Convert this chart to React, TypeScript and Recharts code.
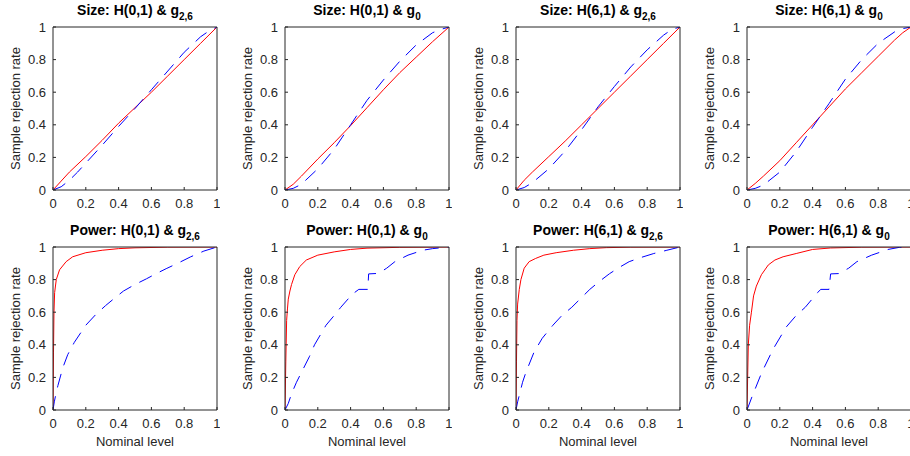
import { Line, LineChart, XAxis, YAxis } from 'recharts'

type Pt = [number, number]

const ticks = [0, 0.2, 0.4, 0.6, 0.8, 1]

// Size panels
const sizeH01g26Red: Pt[] = [[0, 0], [0.05, 0.055], [0.1, 0.11], [0.2, 0.205], [0.3, 0.305], [0.4, 0.41], [0.5, 0.505], [0.6, 0.6], [0.7, 0.7], [0.8, 0.8], [0.9, 0.9], [1, 1]]
const sizeH01g26Blue: Pt[] = [[0, 0], [0.05, 0.02], [0.1, 0.06], [0.15, 0.11], [0.2, 0.165], [0.3, 0.275], [0.4, 0.39], [0.5, 0.5], [0.6, 0.615], [0.7, 0.73], [0.8, 0.845], [0.9, 0.94], [0.95, 0.975], [1, 1]]
const sizeH01g0Red: Pt[] = [[0, 0], [0.05, 0.035], [0.1, 0.085], [0.2, 0.19], [0.3, 0.29], [0.4, 0.395], [0.5, 0.505], [0.6, 0.615], [0.7, 0.72], [0.8, 0.815], [0.9, 0.91], [1, 1]]
const sizeH01g0Blue: Pt[] = [[0, 0], [0.05, 0.01], [0.1, 0.035], [0.2, 0.13], [0.3, 0.25], [0.4, 0.4], [0.5, 0.55], [0.6, 0.675], [0.7, 0.79], [0.8, 0.89], [0.9, 0.965], [0.95, 0.985], [1, 1]]
const sizeH61g26Red: Pt[] = [[0, 0], [0.05, 0.06], [0.1, 0.11], [0.2, 0.205], [0.3, 0.3], [0.4, 0.4], [0.5, 0.5], [0.6, 0.6], [0.7, 0.7], [0.8, 0.8], [0.9, 0.9], [1, 1]]
const sizeH61g26Blue: Pt[] = [[0, 0], [0.05, 0.015], [0.1, 0.045], [0.2, 0.13], [0.3, 0.24], [0.4, 0.37], [0.5, 0.51], [0.6, 0.635], [0.7, 0.755], [0.8, 0.86], [0.9, 0.95], [0.95, 0.985], [1, 1]]
const sizeH61g0Red: Pt[] = [[0, 0], [0.05, 0.04], [0.1, 0.085], [0.2, 0.18], [0.3, 0.29], [0.4, 0.4], [0.5, 0.51], [0.6, 0.62], [0.7, 0.72], [0.8, 0.82], [0.9, 0.92], [0.95, 0.965], [1, 1]]
const sizeH61g0Blue: Pt[] = [[0, 0], [0.05, 0.01], [0.1, 0.03], [0.2, 0.11], [0.3, 0.235], [0.4, 0.385], [0.5, 0.53], [0.6, 0.68], [0.7, 0.8], [0.8, 0.9], [0.9, 0.97], [0.95, 0.99], [1, 1]]

// Power panels
const powH01g26Red: Pt[] = [[0, 0], [0.003, 0.35], [0.006, 0.6], [0.01, 0.72], [0.02, 0.8], [0.04, 0.86], [0.08, 0.91], [0.12, 0.94], [0.2, 0.965], [0.3, 0.98], [0.4, 0.99], [0.5, 0.995], [0.7, 0.999], [1, 1]]
const powH01g26Blue: Pt[] = [[0, 0], [0.008, 0.05], [0.016, 0.09], [0.03, 0.15], [0.06, 0.26], [0.09, 0.34], [0.13, 0.415], [0.2, 0.52], [0.26, 0.585], [0.32, 0.64], [0.38, 0.69], [0.43, 0.73], [0.5, 0.77], [0.57, 0.805], [0.63, 0.837], [0.69, 0.867], [0.76, 0.9], [0.84, 0.94], [0.92, 0.975], [1, 1]]
const powH01g0Red: Pt[] = [[0, 0], [0.005, 0.3], [0.01, 0.55], [0.015, 0.62], [0.02, 0.68], [0.03, 0.73], [0.04, 0.77], [0.06, 0.83], [0.09, 0.88], [0.13, 0.92], [0.2, 0.95], [0.3, 0.97], [0.4, 0.985], [0.5, 0.993], [0.7, 0.998], [1, 1]]
const powH01g0Blue: Pt[] = [[0, 0], [0.02, 0.04], [0.04, 0.1], [0.07, 0.17], [0.11, 0.25], [0.15, 0.33], [0.18, 0.4], [0.25, 0.52], [0.3, 0.58], [0.34, 0.63], [0.41, 0.71], [0.45, 0.74], [0.505, 0.74], [0.51, 0.835], [0.57, 0.838], [0.62, 0.87], [0.67, 0.91], [0.75, 0.95], [0.84, 0.98], [0.9, 0.99], [1, 1]]
const powH61g26Red: Pt[] = [[0, 0], [0.003, 0.3], [0.006, 0.55], [0.01, 0.65], [0.02, 0.74], [0.03, 0.8], [0.05, 0.87], [0.08, 0.91], [0.12, 0.93], [0.17, 0.95], [0.245, 0.965], [0.35, 0.98], [0.45, 0.99], [0.55, 0.996], [0.7, 0.999], [1, 1]]
const powH61g26Blue: Pt[] = [[0, 0], [0.01, 0.05], [0.02, 0.09], [0.04, 0.17], [0.06, 0.23], [0.11, 0.355], [0.16, 0.44], [0.225, 0.52], [0.28, 0.58], [0.34, 0.63], [0.4, 0.69], [0.45, 0.74], [0.51, 0.79], [0.57, 0.836], [0.63, 0.875], [0.69, 0.91], [0.76, 0.935], [0.84, 0.96], [0.92, 0.98], [1, 1]]
const powH61g0Red: Pt[] = [[0, 0], [0.004, 0.2], [0.008, 0.4], [0.016, 0.52], [0.027, 0.6], [0.04, 0.7], [0.057, 0.76], [0.088, 0.83], [0.13, 0.89], [0.17, 0.92], [0.22, 0.94], [0.3, 0.96], [0.4, 0.985], [0.51, 0.994], [0.7, 0.999], [1, 1]]
const powH61g0Blue: Pt[] = [[0, 0], [0.03, 0.08], [0.09, 0.23], [0.16, 0.375], [0.24, 0.51], [0.3, 0.58], [0.355, 0.63], [0.43, 0.72], [0.45, 0.74], [0.5, 0.74], [0.51, 0.835], [0.56, 0.837], [0.62, 0.87], [0.67, 0.91], [0.76, 0.95], [0.86, 0.985], [0.93, 0.998], [1, 1]]

const toRows = (pts: Pt[]) => pts.map(([x, y]) => ({ x, y }))

const AXIS = '#262626'
const PLOT_W = 164
const PLOT_H = 163

type PanelProps = {
  left: number
  top: number
  kind: string
  h: string
  sub: string
  red: Pt[]
  blue: Pt[]
  xLabel?: boolean
}

function Panel({ left, top, kind, h, sub, red, blue, xLabel }: PanelProps) {
  return (
    <>
      <div
        style={{
          position: 'absolute',
          left,
          top: top - 24,
          width: PLOT_W,
          textAlign: 'center',
          fontWeight: 'bold',
          fontSize: 14,
          lineHeight: '14px',
          color: '#000',
          whiteSpace: 'nowrap',
        }}
      >
        {kind}: {h} &amp; g
        <span style={{ fontSize: 10, position: 'relative', top: 5 }}>{sub}</span>
      </div>
      <div style={{ position: 'absolute', left: left - 53, top: top - 27 }}>
        <LineChart width={53 + PLOT_W + 3} height={27 + PLOT_H + 45} margin={{ top: 26, right: 2, bottom: 0, left: 0 }}>
          <XAxis
            xAxisId="b"
            type="number"
            dataKey="x"
            domain={[0, 1]}
            ticks={ticks}
            allowDataOverflow
            height={45}
            stroke={AXIS}
            tickSize={-3}
            tickMargin={12}
            tick={{ fill: AXIS, fontSize: 13 }}
            label={xLabel ? { value: 'Nominal level', position: 'insideBottom', offset: 9, style: { fontSize: 13, fill: AXIS } } : undefined}
          />
          <XAxis xAxisId="t" orientation="top" type="number" dataKey="x" domain={[0, 1]} ticks={ticks} height={1} stroke={AXIS} tickSize={-3} tick={false} />
          <YAxis
            yAxisId="l"
            type="number"
            domain={[0, 1]}
            ticks={ticks}
            allowDataOverflow
            width={53}
            stroke={AXIS}
            tickSize={-3}
            tickMargin={10}
            tick={{ fill: AXIS, fontSize: 13 }}
            label={{ value: 'Sample rejection rate', angle: -90, position: 'insideLeft', offset: 15, style: { textAnchor: 'middle', fontSize: 13, fill: AXIS } }}
          />
          <YAxis yAxisId="r" orientation="right" type="number" domain={[0, 1]} ticks={ticks} width={1} stroke={AXIS} tickSize={-3} tick={false} />
          <Line xAxisId="b" yAxisId="l" data={toRows(red)} dataKey="y" type="linear" stroke="#ff0000" strokeWidth={1} dot={false} activeDot={false} isAnimationActive={false} />
          <Line xAxisId="b" yAxisId="l" data={toRows(blue)} dataKey="y" type="linear" stroke="#0000ff" strokeWidth={1} strokeDasharray="14 9" dot={false} activeDot={false} isAnimationActive={false} />
        </LineChart>
      </div>
    </>
  )
}

const cols = [53, 285, 516, 747]

export default function App() {
  return (
    <div
      style={{
        position: 'absolute',
        left: 0,
        top: 0,
        width: 910,
        height: 456,
        overflow: 'hidden',
        background: '#fff',
        fontFamily: '"Liberation Sans", Arial, sans-serif',
      }}
    >
      <Panel left={cols[0]} top={27} kind="Size" h="H(0,1)" sub="2,6" red={sizeH01g26Red} blue={sizeH01g26Blue} />
      <Panel left={cols[1]} top={27} kind="Size" h="H(0,1)" sub="0" red={sizeH01g0Red} blue={sizeH01g0Blue} />
      <Panel left={cols[2]} top={27} kind="Size" h="H(6,1)" sub="2,6" red={sizeH61g26Red} blue={sizeH61g26Blue} />
      <Panel left={cols[3]} top={27} kind="Size" h="H(6,1)" sub="0" red={sizeH61g0Red} blue={sizeH61g0Blue} />
      <Panel left={cols[0]} top={247} kind="Power" h="H(0,1)" sub="2,6" red={powH01g26Red} blue={powH01g26Blue} xLabel />
      <Panel left={cols[1]} top={247} kind="Power" h="H(0,1)" sub="0" red={powH01g0Red} blue={powH01g0Blue} xLabel />
      <Panel left={cols[2]} top={247} kind="Power" h="H(6,1)" sub="2,6" red={powH61g26Red} blue={powH61g26Blue} xLabel />
      <Panel left={cols[3]} top={247} kind="Power" h="H(6,1)" sub="0" red={powH61g0Red} blue={powH61g0Blue} xLabel />
    </div>
  )
}
